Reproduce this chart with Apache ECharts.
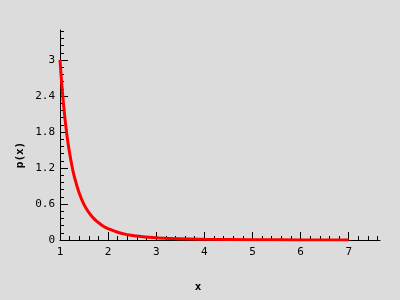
<!DOCTYPE html>
<html><head><meta charset="utf-8">
<script src="https://cdn.jsdelivr.net/npm/echarts@6/dist/echarts.min.js"></script>
<style>html,body{margin:0;padding:0;background:#dcdcdc}#c{width:400px;height:300px}</style>
</head><body><div id="c"></div>
<script>
const xValues = [1, 1.05, 1.1, 1.15, 1.2, 1.25, 1.3, 1.4, 1.5, 1.6, 1.7, 1.8, 1.9, 2, 2.2, 2.4, 2.6, 2.8, 3, 3.5, 4, 5, 6, 7];
const pValues = [3, 2.47, 2.05, 1.71, 1.45, 1.23, 1.05, 0.78, 0.59, 0.46, 0.36, 0.29, 0.23, 0.19, 0.13, 0.09, 0.066, 0.049, 0.037, 0.02, 0.012, 0.005, 0.002, 0.001];
const xTicks = [1, 2, 3, 4, 5, 6, 7];
const yTicks = [0, 0.6, 1.2, 1.8, 2.4, 3];

const xMinor = []; for (let i = 6; i <= 38; i++) { if (i % 5) xMinor.push(Math.round(i*0.2*100)/100); }
const yMinor = []; for (let i = 1; i <= 29; i++) { if (i % 5) yMinor.push(Math.round(i*0.12*100)/100); }

const chart = echarts.init(document.getElementById('c'), null, {renderer:'canvas'});
const font = 'DejaVu Sans Mono';
const axLine = {show:true, onZero:false, lineStyle:{color:'#000', width:1}};
chart.setOption({
  backgroundColor:'#dcdcdc',
  animation:false,
  grid:{left:60, top:30, right:20, bottom:60},
  xAxis:[
    {type:'value', min:1, max:7.65, interval:1, axisLine:axLine,
     axisTick:{inside:true, length:8, lineStyle:{color:'#000'}, customValues:xTicks},
     splitLine:{show:false},
     axisLabel:{margin:7, color:'#000', fontFamily:font, fontSize:11, customValues:xTicks,
       formatter:v=>String(v)}},
    {type:'value', min:1, max:7.65, interval:0.2, position:'bottom', axisLine:{show:false},
     axisTick:{inside:true, length:4, lineStyle:{color:'#000'}, customValues:xMinor},
     splitLine:{show:false}, axisLabel:{show:false}}
  ],
  yAxis:[
    {type:'value', min:0, max:3.5, interval:0.6, axisLine:axLine,
     axisTick:{inside:true, length:8, lineStyle:{color:'#000'}, customValues:yTicks},
     splitLine:{show:false},
     axisLabel:{margin:5, color:'#000', fontFamily:font, fontSize:11, customValues:yTicks,
       formatter:v=>String(Math.round(v*10)/10)}},
    {type:'value', min:0, max:3.5, interval:0.12, position:'left', axisLine:{show:false},
     axisTick:{inside:true, length:4, lineStyle:{color:'#000'}, customValues:yMinor},
     splitLine:{show:false}, axisLabel:{show:false}}
  ],
  graphic:[
    {type:'text', x:198, y:287, style:{text:'x', font:'bold 11px "DejaVu Sans Mono"', fill:'#000', align:'center', verticalAlign:'middle'}},
    {type:'text', x:20, y:155, rotation:Math.PI/2, style:{text:'p(x)', font:'bold 11px "DejaVu Sans Mono"', fill:'#000', align:'center', verticalAlign:'middle'}}
  ],
  series:[{type:'line', xAxisIndex:0, yAxisIndex:0, data:xValues.map((x,i)=>[x,pValues[i]]),
    showSymbol:false, smooth:true, lineStyle:{color:'#ff0000', width:3}, clip:true}]
});
</script></body></html>
